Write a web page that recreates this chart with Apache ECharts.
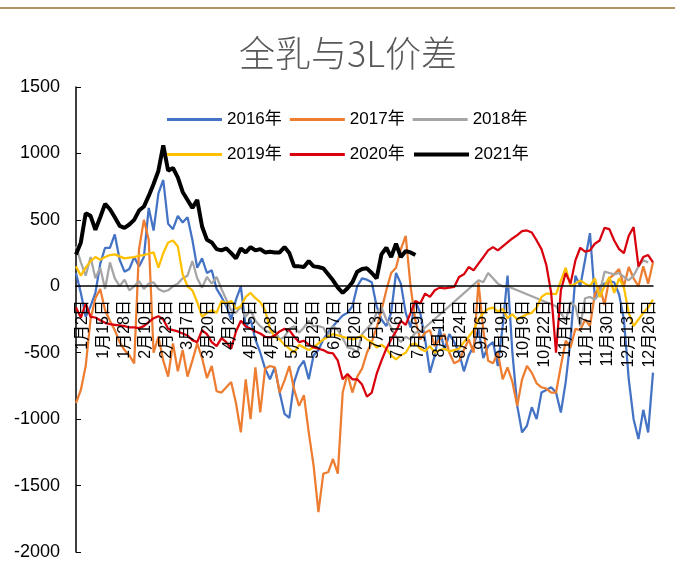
<!DOCTYPE html>
<html>
<head>
<meta charset="utf-8">
<script src="https://cdn.jsdelivr.net/npm/echarts@6/dist/echarts.min.js"></script>
<style>
  html, body { margin: 0; padding: 0; background: #fff; }
  #main { width: 675px; height: 564px; }
</style>
</head>
<body>
<div id="main"></div>
<script>
// one point every STEP days
var STEP = 3;

var monthDays = [31, 29, 31, 30, 31, 30, 31, 31, 30, 31, 30, 31];
var leadDays = ['12月29日', '12月30日', '12月31日', '1月1日'];
var skipDays = ['5月1日', '10月1日', '10月2日', '10月3日', '10月4日', '10月5日', '10月6日', '10月7日'];
var lastDay = '12月28日';

var tickLabels = ['1月2日', '1月15日', '1月28日', '2月10日', '2月23日', '3月7日', '3月20日',
  '4月2日', '4月15日', '4月28日', '5月12日', '5月25日', '6月7日', '6月20日', '7月3日',
  '7月16日', '7月29日', '8月11日', '8月24日', '9月6日', '9月19日', '10月9日', '10月22日',
  '11月4日', '11月17日', '11月30日', '12月13日', '12月26日'];

var seriesNames = ['2016年', '2017年', '2018年', '2019年', '2020年', '2021年'];
var seriesColors = ['#4472C4', '#ED7D31', '#A5A5A5', '#FFC000', '#D9000D', '#000000'];

var v2016 = [
  100, -50, -230, -150, -50, 170, 290, 290, 390, 200,
  110, 130, 220, 150, 220, 590, 420, 700, 800, 470,
  430, 530, 480, 520, 350, 140, 210, 100, 120, -20,
  -80, -150, -250, -100, 0, -310, -250, -400, -500, -620,
  -700, -610, -800, -960, -990, -720, -610, -560, -700, -520,
  -480, -400, -350, -300, -260, -220, -200, -150, 0, 60,
  50, 30, -150, -250, -300, -200, 100, 20, -200, -310,
  -110, -200, -400, -650, -520, -320, -480, -360, -420, -500,
  -640, -520, -450, -320, -540, -450, -420, -600, -300, 80,
  -500, -900, -1100, -1050, -910, -1000, -800, -780, -760, -800,
  -950, -720, -400, 80, 0, 200, 400, -80, 0, 20,
  40, 30, -60, -250, -700, -1000, -1150, -930, -1100, -650
];

var v2017 = [
  -880, -780, -600, -250, -90, -20, -180, -260, -330, -420,
  -480, -520, -580, 280, 500, 350, -500, -380, -560, -680,
  -430, -640, -480, -680, -560, -430, -540, -690, -600, -790,
  -800, -760, -720, -880, -1100, -700, -1000, -610, -950, -620,
  -600, -610, -800, -710, -600, -780, -900, -820, -1100, -1350,
  -1700, -1410, -1400, -1300, -1410, -800, -660, -800, -680, -620,
  -500, -420, -310, -180, -30, 100, 140, 280, 380, 0,
  -260, -400, -350, -330, -450, -400, -360, -500, -580, -560,
  -480, -400, -500, 30, -330, -560, -580, -500, -700, -610,
  -720, -900, -700, -600, -650, -730, -760, -770, -800, -800,
  -600, -410, -460, -320, -330, -250, -300, -60, 0, -140,
  60, 90, 130, 0, 145, 60, 0, 150, 20, 180
];

var v2018 = [
  300, 180, 80, 220, 60, 140, -20, 180, 60, 0,
  50, -30, 0, 40, -20, 20, 30, -20, -40, -30,
  0, 20, 60, 80, 190, 60, -10, 70, 20, 70,
  -20, -100, -180, -200, -150, -230, -180, -260, -300, -330,
  -350, -330, -400, -380, -320, -300, -350, -310, -260, -300,
  -300, -310, -380, -300, -330, -390, -460, -470, -500, -360,
  -320, -280, -200, -160, -250, -310, -380, -420, -380, -400,
  -350, -340, -310, null, null, null, null, null, null, null,
  null, null, null, 45, 30, 100, 60, 20, 0, 0,
  null, null, null, null, null, null, null, null, null, -150,
  -200, -260, -120, -150, -300, -90, -80, -100, -55, 110,
  100, 90, 100, 70, 45, 80, 150, 195, 180, null
];

var v2019 = [
  150, 80, 140, 190, 220, 200, 220, 235, 240, 225,
  210, 215, 220, 230, 235, 245, 255, 140, 250, 330,
  345, 300, 90, 0, -30, -120, -230, -200, -180, -200,
  -110, -130, -110, -170, -150, -80, -50, -90, -120, -180,
  -320, -380, -400, -440, -470, -500, -440, -460, -480, -460,
  -430, -400, -380, -360, -370, -380, -390, -400, -390, -370,
  -400, -420, -460, -440, -470, -520, -550, -520, -500, -440,
  -430, -470, -490, -450, -500, -480, -470, -490, -480, -470,
  -420, -380, -330, -250, -200, -170, -160, -190, -170, -240,
  -210, -250, -230, -210, -200, -160, -80, -55, -55, -60,
  40, 140, 0, 20, 45, 20, 0, 60, -80, 0,
  70, -50, 60, -10, -200, -300, -250, -200, -160, -100
];

var v2020 = [
  -160, -235, -130, -230, -235, -255, -275, -285, -290, -295,
  -300, -310, -310, -315, -300, -270, -240, -225, -250, -320,
  -330, -340, -355, -370, -405, -420, -330, -360, -420, -450,
  -390, -420, -470, -340, -260, -300, -320, -340, -355, -380,
  -385, -370, -340, -320, -330, -380, -420, -410, -440, -460,
  -470, -480, -500, -505, -560, -700, -660, -700, -700, -740,
  -830, -800, -660, -560, -470, -400, -340, -260, -290, -200,
  -110, -130, -55, -80, -30, -10, -15, -10, -5, 70,
  90, 145, 120, 170, 220, 270, 295, 270, 300, 330,
  360, 385, 415, 420, 405, 345, 280, 160, -50, -500,
  -30, 100, 20, 195, 290, 260, 270, 320, 345, 440,
  430, 345, 280, 250, 380, 445, 150, 220, 235, 180
];

var v2021 = [
  240, 330, 550, 530, 425, 520, 620, 580, 520, 455,
  440, 465, 500, 570, 600, 680, 770, 870, 1060, 870,
  890, 820, 710, 650, 590, 650, 450, 350, 330, 280,
  270, 285, 250, 210, 285, 255, 295, 270, 280, 255,
  260, 255, 255, 295, 250, 150, 150, 145, 190, 150,
  145, 135, 90, 45, -10, -50, -15, 30, 110, 130,
  135, 100, 60, 240, 290, 220, 320, 220, 265, 255,
  235
];

var allValues = [v2016, v2017, v2018, v2019, v2020, v2021];

// build the day list
var categories = leadDays.slice();
(function () {
  for (var m = 0; m < 12; m++) {
    for (var d = (m === 0 ? 2 : 1); d <= monthDays[m]; d++) {
      var name = (m + 1) + '月' + d + '日';
      if (skipDays.indexOf(name) >= 0) continue;
      categories.push(name);
      if (name === lastDay) return;
    }
  }
})();

function toPairs(arr) {
  return arr.map(function (v, k) {
    return [k * STEP, v === null ? '-' : v];
  });
}

var FONT = "'Liberation Sans', Arial, 'Noto Sans CJK SC', sans-serif";

var myChart = echarts.init(document.getElementById('main'));

var series = seriesNames.map(function (name, i) {
  return {
    name: name,
    type: 'line',
    symbol: 'none',
    connectNulls: true,
    animation: false,
    lineStyle: { color: seriesColors[i], width: i === 5 ? 4 : 2.25 },
    itemStyle: { color: seriesColors[i] },
    data: toPairs(allValues[i])
  };
});

function makeLegend(names, left, top, h) {
  return {
    data: names,
    left: left,
    top: top,
    icon: 'rect',
    orient: 'horizontal',
    itemWidth: 55,
    itemHeight: h,
    itemGap: 8,
    textStyle: { fontSize: 17, color: '#000', fontFamily: FONT, padding: [2, 0, 0, 0] }
  };
}

var option = {
  backgroundColor: '#fff',
  title: {
    text: '全乳与3L价差',
    left: 343,
    top: 30,
    textAlign: 'center',
    textStyle: {
      fontSize: 36,
      fontWeight: 300,
      color: '#595959',
      fontFamily: "'Noto Sans CJK SC', sans-serif"
    }
  },
  legend: [
    makeLegend(seriesNames.slice(0, 3), 162, 106, 3),
    makeLegend(seriesNames.slice(3, 5), 162, 141, 3),
    makeLegend(seriesNames.slice(5, 6), 409, 141, 4)
  ],
  graphic: [{
    type: 'line',
    shape: { x1: 0, y1: 8, x2: 675, y2: 8 },
    style: { stroke: '#B09462', lineWidth: 2 }
  }],
  grid: { left: 76, right: 22, top: 87, bottom: 12, containLabel: false },
  xAxis: {
    type: 'category',
    boundaryGap: false,
    data: categories,
    position: 'bottom',
    offset: -266,
    z: 10,
    axisLine: { onZero: false, lineStyle: { color: '#000', width: 1.5 } },
    axisTick: { show: false },
    splitLine: { show: false },
    axisLabel: {
      rotate: 90,
      margin: 14,
      fontSize: 16,
      color: '#000',
      fontFamily: FONT,
      interval: function (idx, value) {
        return tickLabels.indexOf(value) >= 0;
      }
    }
  },
  yAxis: {
    type: 'value',
    min: -2000,
    max: 1500,
    interval: 500,
    axisLine: { show: true, lineStyle: { color: '#000', width: 1.5 } },
    axisTick: { show: true, inside: true, length: 5, lineStyle: { color: '#000' } },
    splitLine: { show: false },
    axisLabel: {
      fontSize: 18, color: '#000', margin: 16, fontFamily: FONT,
      formatter: function (v) { return String(v); }
    }
  },
  series: series
};

myChart.setOption(option);
</script>
</body>
</html>
